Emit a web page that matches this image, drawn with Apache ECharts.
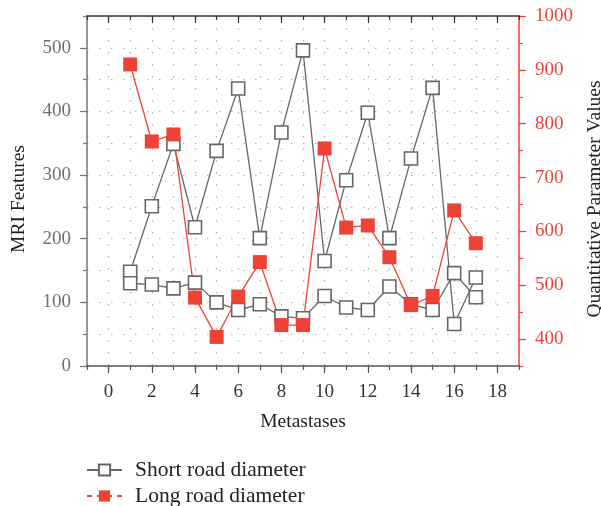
<!DOCTYPE html>
<html>
<head>
<meta charset="utf-8">
<script src="https://cdn.jsdelivr.net/npm/echarts@6/dist/echarts.min.js"></script>
<style>
html,body{margin:0;padding:0;background:#fff;}
#chart{width:601px;height:506px;}
</style>
</head>
<body>
<div id="chart"></div>
<script>
// ---- data ----
const metastases = [1,2,3,4,5,6,7,8,9,10,11,12,13,14,15,16,17];
const shortRoadHigh = [148,251,349,218,338,436,201,367,496,165,292,398,201,326,437,66,139];
const shortRoadLow  = [130,128,122,131,100,88,97,78,75,110,92,88,125,97,88,146,108];
const longRoad      = [910,767,780,477,404,479,543,426,426,754,607,611,552,463,480,639,578];
const xTickLabels = [0,2,4,6,8,10,12,14,16,18];
const leftTickLabels = [0,100,200,300,400,500];
const rightTickLabels = [400,500,600,700,800,900,1000];

const FONT = 'Liberation Serif';
const GRAY = '#666666';
const RED = '#ee4237';

function pairs(xs, ys){ return xs.map((x,i)=>[x, ys[i]]); }
const plain = v => String(v);

const chart = echarts.init(document.getElementById('chart'), null, {renderer:'canvas'});
const dotted = {type:[1.5,10.5], color:'#b0b0b0', width:1.2};

chart.setOption({
  animation:false,
  backgroundColor:'#fff',
  textStyle:{fontFamily:FONT},
  grid:{left:87, right:82, top:16, bottom:140, containLabel:false, outerBoundsMode:'none'},
  legend:{
    orient:'vertical', left:81, top:454, height:80, itemWidth:35, itemHeight:14, itemGap:4,
    textStyle:{fontFamily:FONT, fontSize:21.5, color:'#222', padding:[0,0,0,8]},
    data:[
      {name:'Short road diameter'},
      {name:'Long road diameter', lineStyle:{type:[5,5]}}
    ]
  },
  xAxis:[
    {type:'value', position:'bottom', min:-1, max:19, interval:1,
     name:'Metastases', nameLocation:'middle', nameGap:46,
     nameTextStyle:{fontFamily:FONT, fontSize:19.5, color:'#222'},
     axisLine:{show:true, onZero:false, lineStyle:{color:'#555', width:1.5}},
     axisTick:{show:true, length:4, lineStyle:{color:'#555', width:1.2}},
     axisLabel:{customValues:xTickLabels, formatter:plain, color:'#333', fontSize:19, fontFamily:FONT, margin:17},
     splitLine:{show:true, lineStyle:dotted}},
    {type:'value', position:'bottom', min:-1, max:19, interval:1,
     axisLine:{show:false, onZero:false},
     axisTick:{show:true, length:7, customValues:xTickLabels, lineStyle:{color:'#555', width:1.2}},
     axisLabel:{show:false}, splitLine:{show:false}},
    {type:'value', position:'top', min:-1, max:19, interval:1,
     axisLine:{show:true, onZero:false, lineStyle:{color:'#333', width:1.5}},
     axisTick:{show:true, inside:true, length:4, lineStyle:{color:'#333', width:1.2}},
     axisLabel:{show:false}, splitLine:{show:false}},
    {type:'value', position:'top', min:-1, max:19, interval:1,
     axisLine:{show:false, onZero:false},
     axisTick:{show:true, inside:true, length:7, customValues:xTickLabels, lineStyle:{color:'#333', width:1.2}},
     axisLabel:{show:false}, splitLine:{show:false}}
  ],
  yAxis:[
    {type:'value', position:'left', min:0, max:550, interval:50,
     name:'MRI Features', nameLocation:'middle', nameGap:58, nameRotate:90,
     nameTextStyle:{fontFamily:FONT, fontSize:19.5, color:'#222', padding:[0,16,0,0]},
     axisLine:{show:true, onZero:false, lineStyle:{color:'#777', width:1.5}},
     axisTick:{show:true, length:4, lineStyle:{color:'#777', width:1.2}},
     axisLabel:{customValues:leftTickLabels, formatter:plain, color:'#707070', fontSize:19, fontFamily:FONT, margin:16},
     splitLine:{show:true, lineStyle:dotted}},
    {type:'value', position:'right', min:350, max:1000, interval:50,
     name:'Quantitative Parameter Values', nameLocation:'middle', nameGap:66, nameRotate:90,
     nameTextStyle:{fontFamily:FONT, fontSize:19.5, color:'#222', padding:[0,16,0,0]},
     axisLine:{show:true, onZero:false, lineStyle:{color:RED, width:1.5}},
     axisTick:{show:true, length:4, lineStyle:{color:RED, width:1.2}},
     axisLabel:{customValues:rightTickLabels, formatter:plain, color:RED, fontSize:19, fontFamily:FONT, margin:16},
     splitLine:{show:false}},
    {type:'value', position:'left', min:0, max:550, interval:50,
     axisLine:{show:false, onZero:false},
     axisTick:{show:true, length:7, customValues:leftTickLabels, lineStyle:{color:'#777', width:1.2}},
     axisLabel:{show:false}, splitLine:{show:false}},
    {type:'value', position:'right', min:350, max:1000, interval:50,
     axisLine:{show:false, onZero:false},
     axisTick:{show:true, length:7, customValues:rightTickLabels, lineStyle:{color:RED, width:1.2}},
     axisLabel:{show:false}, splitLine:{show:false}}
  ],
  series:[
    {name:'Short road diameter', type:'line', xAxisIndex:0, yAxisIndex:0,
     data:pairs(metastases, shortRoadHigh),
     symbol:'rect', symbolSize:13,
     lineStyle:{color:GRAY, width:1.3},
     itemStyle:{color:'#fff', borderColor:GRAY, borderWidth:1.6}},
    {name:'Short road diameter (2)', type:'line', xAxisIndex:0, yAxisIndex:0,
     data:pairs(metastases, shortRoadLow),
     symbol:'rect', symbolSize:13,
     lineStyle:{color:GRAY, width:1.3},
     itemStyle:{color:'#fff', borderColor:GRAY, borderWidth:1.6}},
    {name:'Long road diameter', type:'line', xAxisIndex:0, yAxisIndex:1,
     data:pairs(metastases, longRoad),
     symbol:'rect', symbolSize:14,
     lineStyle:{color:RED, width:1.3},
     itemStyle:{color:RED, borderWidth:0}}
  ]
});
</script>
</body>
</html>
